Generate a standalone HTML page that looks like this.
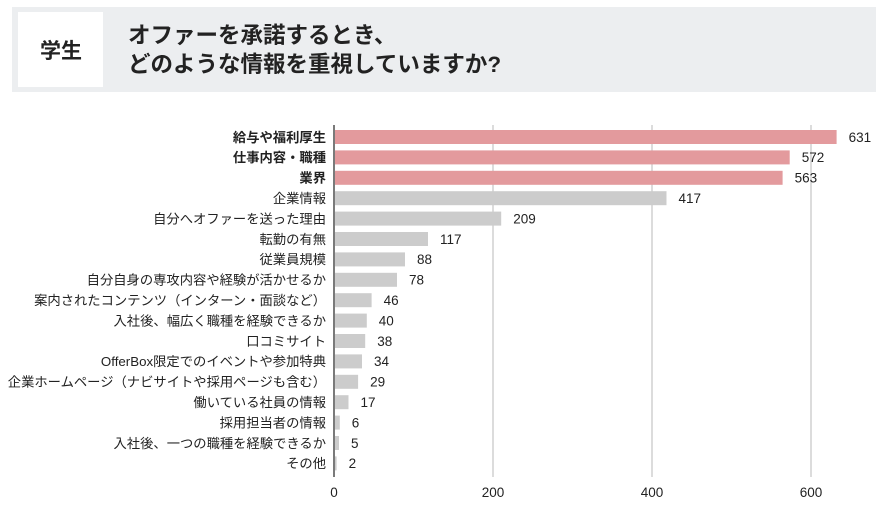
<!DOCTYPE html>
<html><head><meta charset="utf-8"><style>
body{margin:0;width:886px;height:511px;background:#fff;overflow:hidden}
</style></head><body>
<svg width="886" height="511" xmlns="http://www.w3.org/2000/svg" style="position:absolute;left:0;top:0;font-family:'Liberation Sans','Noto Sans CJK JP',sans-serif">
<rect x="12" y="7" width="864" height="85" fill="#eceef0"/>
<rect x="18" y="12" width="85" height="75" fill="#fff"/>
<text x="61" y="58" font-size="21" font-weight="bold" text-anchor="middle" fill="#222">学生</text>
<text x="128" y="43" font-size="22.5" font-weight="bold" fill="#222">オファーを承諾するとき、</text>
<text x="128" y="72" font-size="22.5" font-weight="bold" fill="#222">どのような情報を重視していますか?</text>
<g stroke="#d0d0d0" stroke-width="1.5">
<line x1="493" y1="125" x2="493" y2="477"/><line x1="652" y1="125" x2="652" y2="477"/><line x1="811" y1="125" x2="811" y2="477"/>
</g>
<g fill="#e39a9d">
<rect x="335" y="130" width="501.6" height="14"/>
<rect x="335" y="150.4" width="454.7" height="14"/>
<rect x="335" y="170.8" width="447.6" height="14"/>
</g>
<g fill="#cccccc">
<rect x="335" y="191.2" width="331.5" height="14"/>
<rect x="335" y="211.6" width="166.2" height="14"/>
<rect x="335" y="232" width="93" height="14"/>
<rect x="335" y="252.4" width="70" height="14"/>
<rect x="335" y="272.8" width="62" height="14"/>
<rect x="335" y="293.2" width="36.6" height="14"/>
<rect x="335" y="313.6" width="31.8" height="14"/>
<rect x="335" y="334" width="30.2" height="14"/>
<rect x="335" y="354.4" width="27" height="14"/>
<rect x="335" y="374.8" width="23.1" height="14"/>
<rect x="335" y="395.2" width="13.5" height="14"/>
<rect x="335" y="415.6" width="4.8" height="14"/>
<rect x="335" y="436" width="4" height="14"/>
<rect x="335" y="456.4" width="1.6" height="14"/>
</g>
<g font-size="13.3" fill="#222" text-anchor="end">
<text x="326" y="141.8" font-weight="bold">給与や福利厚生</text>
<text x="326" y="162.2" font-weight="bold">仕事内容・職種</text>
<text x="326" y="182.6" font-weight="bold">業界</text>
<text x="326" y="203">企業情報</text>
<text x="326" y="223.4">自分へオファーを送った理由</text>
<text x="326" y="243.8">転勤の有無</text>
<text x="326" y="264.2">従業員規模</text>
<text x="326" y="284.6">自分自身の専攻内容や経験が活かせるか</text>
<text x="326" y="305">案内されたコンテンツ（インターン・面談など）</text>
<text x="326" y="325.4">入社後、幅広く職種を経験できるか</text>
<text x="326" y="345.8">口コミサイト</text>
<text x="326" y="366.2">OfferBox限定でのイベントや参加特典</text>
<text x="326" y="386.6">企業ホームページ（ナビサイトや採用ページも含む）</text>
<text x="326" y="407">働いている社員の情報</text>
<text x="326" y="427.4">採用担当者の情報</text>
<text x="326" y="447.8">入社後、一つの職種を経験できるか</text>
<text x="326" y="468.2">その他</text>
</g>
<g font-size="13.5" fill="#222">
<text x="848.6" y="141.8">631</text>
<text x="801.7" y="162.2">572</text>
<text x="794.6" y="182.6">563</text>
<text x="678.5" y="203">417</text>
<text x="513.2" y="223.4">209</text>
<text x="440" y="243.8">117</text>
<text x="417" y="264.2">88</text>
<text x="409" y="284.6">78</text>
<text x="383.6" y="305">46</text>
<text x="378.8" y="325.4">40</text>
<text x="377.2" y="345.8">38</text>
<text x="374" y="366.2">34</text>
<text x="370.1" y="386.6">29</text>
<text x="360.5" y="407">17</text>
<text x="351.8" y="427.4">6</text>
<text x="351" y="447.8">5</text>
<text x="348.6" y="468.2">2</text>
</g>
<line x1="334" y1="125" x2="334" y2="477" stroke="#333" stroke-width="1.3"/>
<g font-size="13.5" fill="#222" text-anchor="middle">
<text x="334" y="497">0</text><text x="493" y="497">200</text><text x="652" y="497">400</text><text x="811" y="497">600</text>
</g>
</svg>
</body></html>
